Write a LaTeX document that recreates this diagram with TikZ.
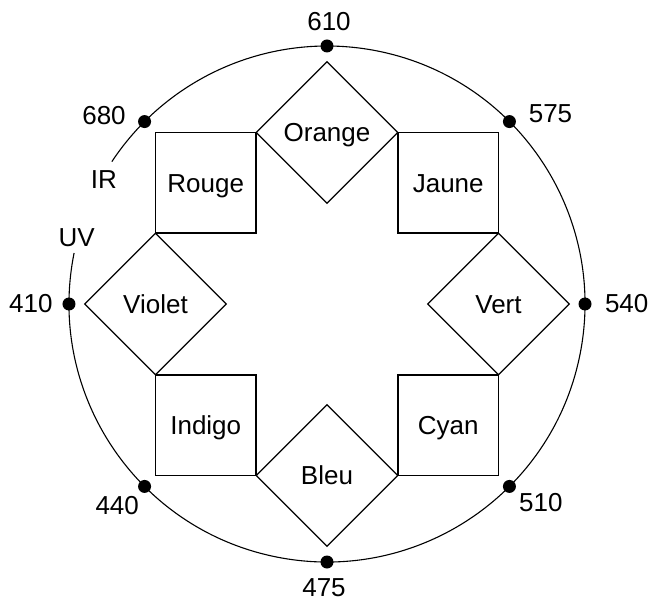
\documentclass[tikz,border=0pt]{standalone}
\usepackage{fontspec}
\setmainfont{Liberation Sans}
\usetikzlibrary{shapes.geometric}
\begin{document}
\begin{tikzpicture}[x=1pt,y=1pt,line width=1.1pt,
  lbl/.style={inner sep=0pt, text height=18.6pt, text depth=0pt, font=\fontsize{26}{31}\selectfont},
  sq/.style={lbl, draw, rectangle, minimum size=100.5pt},
  dm/.style={lbl, draw, diamond, aspect=1, minimum width=142pt, minimum height=142pt},
  dot/.style={circle, fill, inner sep=0pt, minimum size=13pt}]
\useasboundingbox (-327,-298) rectangle (323,304);
% circle with a gap between IR and UV
\draw (168.6:258) arc[start angle=168.6, end angle=506.5, radius=258];
% diamonds
\node[dm] (orange) at (0,171.5) {Orange};
\node[dm] (bleu) at (0,-171.5) {Bleu};
\node[dm] (violet) at (-171.5,0) {Violet};
\node[dm] (vert) at (171.5,0) {Vert};
% squares
\node[sq] (rouge) at (-121.25,121.25) {Rouge};
\node[sq] (jaune) at (121.25,121.25) {Jaune};
\node[sq] (indigo) at (-121.25,-121.25) {Indigo};
\node[sq] (cyan) at (121.25,-121.25) {Cyan};
% dots
\node[dot] (d610) at (90:258) {};
\node[dot] (d575) at (45:258) {};
\node[dot] (d540) at (0:258) {};
\node[dot] (d510) at (-45:258) {};
\node[dot] (d475) at (-90:258) {};
\node[dot] (d440) at (-135:258) {};
\node[dot] (d410) at (180:258) {};
\node[dot] (d680) at (135:258) {};
% labels
\node[lbl] (l610) at (2,282.3) {610};
\node[lbl] (l680) at (-223,188.3) {680};
\node[lbl] (l575) at (223.5,190.3) {575};
\node[lbl] (l540) at (299.7,0.3) {540};
\node[lbl] (l410) at (-296.2,0.3) {410};
\node[lbl] (l440) at (-209.8,-201.5) {440};
\node[lbl] (l510) at (213.8,-198.5) {510};
\node[lbl] (l475) at (-3,-283) {475};
\node[lbl] (lir) at (-223,125) {IR};
\node[lbl] (luv) at (-250.3,67) {UV};
\end{tikzpicture}
\end{document}
